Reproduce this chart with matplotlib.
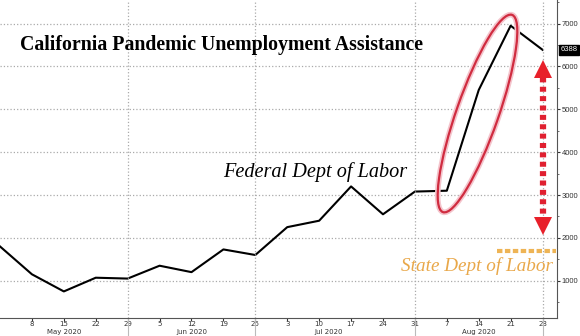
import matplotlib.pyplot as plt
import matplotlib.dates as mdates
import matplotlib.transforms as mtransforms
from matplotlib.patches import Ellipse
import pandas as pd

dates = pd.date_range('2020-05-01', '2020-08-28', freq='7D')
claims = [1800, 1150, 750, 1070, 1050, 1350, 1200, 1730, 1600, 2250,
          2400, 3200, 2550, 3080, 3100, 5450, 6950, 6388]
month_labels = ['May 2020', 'Jun 2020', 'Jul 2020', 'Aug 2020']
month_centers = ['2020-05-15', '2020-06-12', '2020-07-12', '2020-08-14']
month_bounds = ['2020-05-29', '2020-06-26', '2020-07-31', '2020-08-28']
state_level = 1700
last_value = 6388

fig = plt.figure(figsize=(5.8, 3.36), dpi=100)
ax = fig.add_axes([0, 18 / 336, 557 / 580, 318 / 336])

ax.plot(dates, claims, color='black', lw=1.5)
ax.set_xlim(pd.Timestamp('2020-05-01'), pd.Timestamp('2020-08-31 04:00'))
ax.set_ylim(130, 7550)

ax.yaxis.tick_right()
ax.set_yticks(range(1000, 8000, 1000))
ax.set_yticks(range(500, 7600, 500), minor=True)
ax.tick_params(axis='y', which='major', length=2.5, labelsize=5.5, pad=1, colors='#333333')
ax.tick_params(axis='y', which='minor', length=1.5, colors='#555555')
for t in ax.get_yticklabels():
    t.set_family('Liberation Sans')
ax.set_xticks(dates[1:])
ax.xaxis.set_major_formatter(mdates.DateFormatter('%-d'))
ax.tick_params(axis='x', length=2, labelsize=5, pad=0.5, colors='#333333')

for s in ['top', 'left']:
    ax.spines[s].set_visible(False)
ax.spines['right'].set_color('#555555')
ax.spines['bottom'].set_color('#555555')

ax.grid(axis='y', ls=':', color='#aaaaaa', lw=0.9)
for d in month_bounds:
    ax.axvline(pd.Timestamp(d), ls=':', color='#aaaaaa', lw=0.9)
    ax.plot([pd.Timestamp(d)] * 2, [0, -0.06], transform=ax.get_xaxis_transform(),
            color='#bbbbbb', lw=0.8, clip_on=False)

trans = mtransforms.blended_transform_factory(ax.transData, ax.transAxes)
for lab, c in zip(month_labels, month_centers):
    ax.text(pd.Timestamp(c), -0.045, lab, transform=trans, ha='center', va='center',
            fontsize=5, color='#333333')

ax.text(0.036, 0.858, 'California Pandemic Unemployment Assistance', transform=ax.transAxes,
        fontsize=14.3, fontweight='bold', family='Liberation Serif', color='black',
        va='center')
ax.text(pd.Timestamp('2020-06-19'), 3530, 'Federal Dept of Labor', fontsize=14.6,
        style='italic', family='Liberation Serif', color='black', va='center')
ax.text(pd.Timestamp('2020-07-28'), 1350, 'State Dept of Labor', fontsize=13.8,
        style='italic', family='Liberation Serif', color='#e9a84a', va='center')
ax.plot([pd.Timestamp('2020-08-18'), pd.Timestamp('2020-08-31')], [state_level] * 2,
        color='#eeb455', lw=3, ls=(0, (1.3, 0.6)))

x_arrow = pd.Timestamp('2020-08-28')
ax.plot([x_arrow, x_arrow], [2350, 5850], color='#e02030', lw=4.5, ls=(0, (0.8, 0.7)))
ax.plot([x_arrow], [5950], marker='^', ms=13, color='#e8202a', mew=0)
ax.plot([x_arrow], [2280], marker='v', ms=13, color='#e8202a', mew=0)

# hand-drawn style ellipse around the August jump, with a soft pink halo
for lw, col in [(4, '#f4c4cc'), (1.6, '#d02c40')]:
    fig.add_artist(Ellipse((4.775, 2.225), 2.09, 0.42, angle=70.7,
                           transform=fig.dpi_scale_trans, fill=False, ec=col, lw=lw))

ax.annotate(str(last_value), xy=(1.0, last_value), xycoords=('axes fraction', 'data'),
            xytext=(2.5, 0), textcoords='offset points', ha='left', va='center',
            fontsize=5.5, color='white', family='Liberation Sans',
            bbox=dict(boxstyle='square,pad=0.2', fc='black', ec='black'))

fig.savefig('out.png', dpi=100)
